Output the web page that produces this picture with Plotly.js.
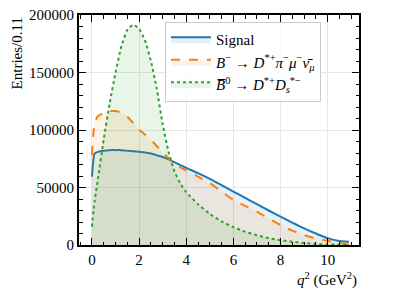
<!DOCTYPE html>
<html>
<head>
<meta charset="utf-8">
<script src="https://cdn.plot.ly/plotly-3.0.1.min.js"></script>
<style>html,body{margin:0;padding:0;background:#fff;}#chart{width:399px;height:299px;}</style>
</head>
<body>
<div id="chart"></div>
<script>
const q2 = [0, 0.11, 0.25, 0.5, 0.75, 1, 1.25, 1.5, 1.75, 2, 2.25, 2.5, 2.75, 3, 3.25, 3.5, 3.75, 4, 4.5, 5, 5.5, 6, 6.5, 7, 7.5, 8, 8.5, 9, 9.5, 10, 10.5, 10.9];
const signal = [59500, 79500, 81000, 82000, 82500, 82500, 82500, 82000, 81500, 81000, 80500, 79500, 78000, 76500, 74500, 72000, 69500, 67000, 62500, 57500, 52000, 46500, 41000, 35500, 30000, 24700, 19500, 14500, 10000, 6000, 3500, 2800];
const bminus = [78000, 106000, 112000, 115000, 116500, 116500, 115000, 111500, 106000, 100000, 96000, 91500, 86000, 80500, 75500, 70500, 67500, 64800, 59500, 53800, 46500, 39200, 34000, 29000, 23000, 17400, 12500, 8700, 5800, 3700, 1800, 500];
const bzero = [16000, 38000, 57000, 92000, 123000, 150000, 173000, 187000, 191500, 188000, 178000, 160000, 136000, 105000, 81000, 64000, 53500, 46000, 35500, 27000, 20500, 15500, 11500, 8500, 6000, 4200, 2800, 1800, 1000, 500, 200, 0];
const names = ['Signal',
  '<i>B</i><sup>−</sup> → <i>D</i><sup>*+</sup><i>π</i><sup>−</sup><i>μ</i><sup>−</sup><i>ν̄</i><sub><i>μ</i></sub>',
  '<i>B̅</i><sup>0</sup> → <i>D</i><sup>*+</sup><i>D</i><sub><i>s</i></sub><sup>*−</sup>'];
const xTicks = [0, 2, 4, 6, 8, 10];
const yTicks = [0, 50000, 100000, 150000, 200000];

const font = "'Liberation Serif', 'DejaVu Serif', serif";
const fs = 15;
const traces = [
  {x: q2, y: signal, name: names[0], mode: 'lines', line: {color: '#1f77b4', width: 2, shape: 'spline', smoothing: 0.5}, fill: 'tozeroy', fillcolor: 'rgba(31,119,180,0.1)'},
  {x: q2, y: bminus, name: names[1], mode: 'lines', line: {color: '#ff7f0e', width: 2, dash: 'dash', shape: 'spline', smoothing: 0.5}, fill: 'tozeroy', fillcolor: 'rgba(255,127,14,0.1)'},
  {x: q2, y: bzero, name: names[2], mode: 'lines', line: {color: '#2ca02c', width: 2, dash: 'dot', shape: 'spline', smoothing: 0.5}, fill: 'tozeroy', fillcolor: 'rgba(44,160,44,0.1)'}
];
const layout = {
  width: 399, height: 299,
  margin: {l: 79, r: 40, t: 15, b: 54},
  paper_bgcolor: '#fff', plot_bgcolor: '#fff',
  font: {family: font, size: fs, color: '#000'},
  showlegend: true,
  legend: {x: 0.307, y: 0.97, xanchor: 'left', yanchor: 'top', itemwidth: 40, bgcolor: 'rgba(255,255,255,0.8)', bordercolor: '#cccccc', borderwidth: 1, font: {family: font, size: fs, color: '#000'}},
  xaxis: {range: [-0.55, 11.33], tickvals: xTicks, ticktext: xTicks.map(String), ticks: 'inside', ticklen: 7, tickwidth: 1, tickcolor: '#000',
    tickfont: {family: font, size: fs, color: '#000'},
    showline: true, linewidth: 2, linecolor: '#000', mirror: 'allticks', showgrid: true, gridcolor: '#e6e6e6', gridwidth: 1, zeroline: false,
    minor: {dtick: 0.5, ticks: 'inside', ticklen: 3.5, tickwidth: 1, tickcolor: '#000', showgrid: false}},
  yaxis: {range: [0, 200000], tickvals: yTicks, ticktext: yTicks.map(String), ticks: 'inside', ticklen: 7, tickwidth: 1, tickcolor: '#000',
    tickfont: {family: font, size: fs, color: '#000'},
    showline: true, linewidth: 2, linecolor: '#000', mirror: 'allticks', showgrid: true, gridcolor: '#e6e6e6', gridwidth: 1, zeroline: false,
    minor: {dtick: 10000, ticks: 'inside', ticklen: 3.5, tickwidth: 1, tickcolor: '#000', showgrid: false}},
  annotations: [
    {text: 'Entries/0.11', xref: 'paper', yref: 'paper', x: -0.22, y: 1, xanchor: 'center', yanchor: 'top', textangle: -90, showarrow: false, font: {family: font, size: fs, color: '#000'}},
    {text: '<i>q</i><sup>2</sup> (GeV<sup>2</sup>)', xref: 'paper', yref: 'paper', x: 1, y: -0.15, xanchor: 'right', yanchor: 'middle', showarrow: false, font: {family: font, size: fs, color: '#000'}}
  ]
};
Plotly.newPlot('chart', traces, layout, {displayModeBar: false, staticPlot: true});
</script>
</body>
</html>
